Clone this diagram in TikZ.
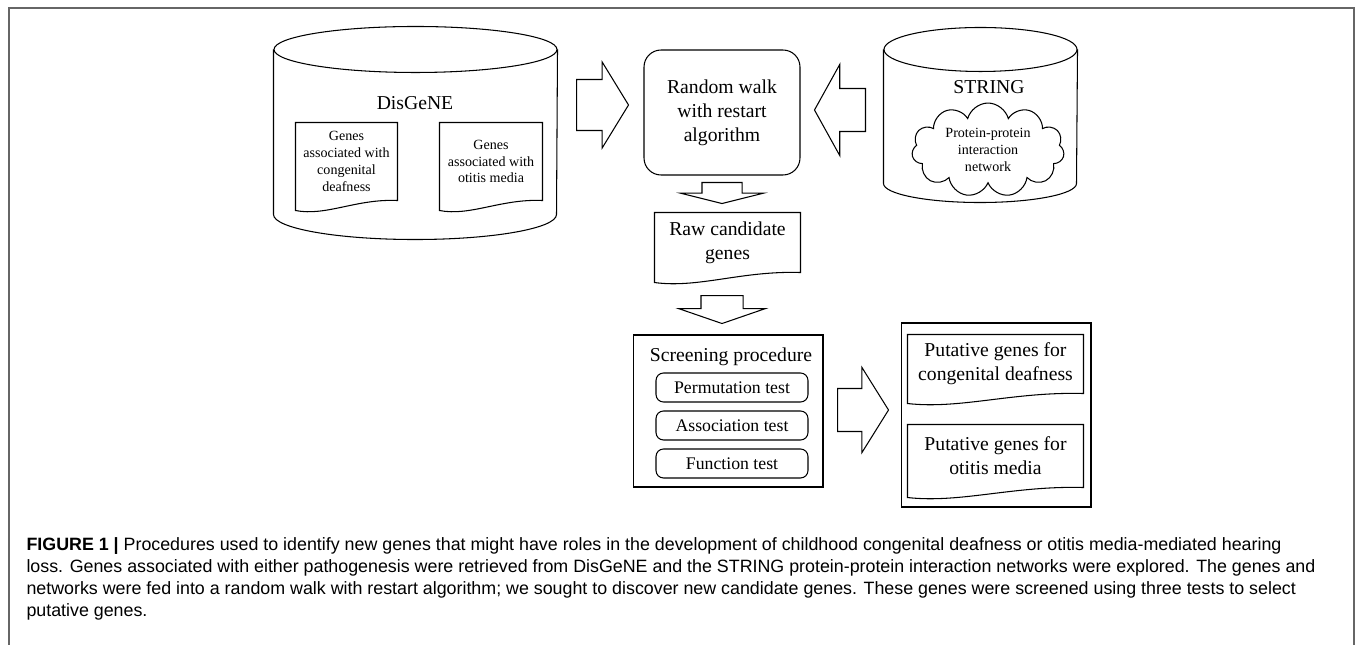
\documentclass[tikz,border=0pt]{standalone}
\usepackage{fontspec}
\setmainfont{Liberation Serif}
\newfontfamily\capfont{Liberation Sans}
\usetikzlibrary{shapes.geometric,shapes.arrows,shapes.symbols,positioning,calc}

\newcommand{\mainsize}{\fontsize{11.2}{13.6}\selectfont}
\newcommand{\testsize}{\fontsize{10.1}{12}\selectfont}
\newcommand{\smallsize}{\fontsize{8}{9.6}\selectfont}
\newcommand{\captsize}{\capfont\fontsize{10.15}{12}\selectfont}

\tikzstyle{dbbox}=[rectangle,inner sep=0pt]
\tikzstyle{algo}=[rectangle,rounded corners=0.34cm,minimum width=3.12cm,
minimum height=2.5cm,align=center,draw=black,font=\mainsize]
\tikzstyle{docu}=[rectangle,inner sep=0pt,align=center]
\tikzstyle{frame}=[rectangle,draw=black,inner sep=0pt]
\tikzstyle{testbox}=[rectangle,rounded corners=0.15cm,minimum width=3.04cm,
minimum height=0.58cm,draw=black,font=\testsize]
\tikzstyle{bigarrow}=[single arrow,draw=black,inner xsep=0pt,minimum width=0pt,anchor=tail]
\tikzstyle{captline}=[anchor=base west,inner sep=0pt,font=\captsize]

% document outline with a wavy bottom
\newcommand{\docline}[1]{%
  \draw (#1.south west) -- (#1.north west) -- (#1.north east) -- (#1.south east)
    .. controls ($(#1.south west)!0.6!(#1.south east)+(0,-2)$)
    and ($(#1.south west)!0.3!(#1.south east)+(0,16)$) .. ($(#1.south west)+(0,10)$) -- cycle;}
% database cylinder round a node
\newcommand{\cylline}[4]{%
  \draw (#1.north) ellipse [x radius=#2, y radius=#3];
  \draw (#1.north west) -- (#1.south west) arc [start angle=180, end angle=0, x radius=#2, y radius=#4] -- (#1.north east);}

\begin{document}
\begin{tikzpicture}[x=0.02cm,y=-0.02cm,line width=0.6pt]
    \useasboundingbox (0,0) rectangle (1355,645);
    \draw [black!60,line width=0.8pt] (9,650) -- (9,8) -- (1354,8) -- (1354,650);

    % databases
    \node (disgene) [dbbox,minimum width=5.66cm,minimum height=3.28cm] at (415.5,132) {};
    \cylline{disgene}{141.5}{23}{25}
    \node (disname) [font=\mainsize] at (415,103) {DisGeNE};
    \node (gen1) [docu,minimum width=2.02cm,minimum height=1.54cm,font=\smallsize] at (346.5,161.5) {Genes\\associated with\\congenital\\deafness};
    \docline{gen1}
    \node (gen2) [docu,minimum width=2.04cm,minimum height=1.54cm,font=\smallsize] at (491,161.5) {Genes\\associated with\\otitis media};
    \docline{gen2}

    \node (string) [dbbox,minimum width=3.86cm,minimum height=2.66cm] at (980.5,116.5) {};
    \cylline{string}{96.5}{22}{19}
    \node (strname) [font=\mainsize] at (989,87) {STRING};
    \node (ppi) [cloud,draw=black,cloud puffs=11,aspect=1.7,inner sep=0pt,
      minimum width=3.05cm,minimum height=1.85cm,align=center,font=\smallsize] at (988,150) {Protein-protein\\interaction\\network};

    % algorithm and results
    \node (rwr) [algo] at (722,112.5) {Random walk\\with restart\\algorithm};
    \node (raw) [docu,minimum width=2.9cm,minimum height=1.18cm,font=\mainsize] at (727.5,242.5) {Raw candidate\\genes};
    \docline{raw}

    \node (screen) [frame,minimum width=3.8cm,minimum height=3.04cm] at (728,411) {};
    \node (scrtitle) [font=\mainsize] at (731,357) {Screening procedure};
    \node (t1) [testbox] at (732,387.5) {Permutation test};
    \node (t2) [testbox,below of=t1,node distance=0.76cm] {Association test};
    \node (t3) [testbox,below of=t2,node distance=0.76cm] {Function test};

    \node (putative) [frame,minimum width=3.8cm,minimum height=3.68cm] at (996,415) {};
    \node (puta) [docu,minimum width=3.5cm,minimum height=1.16cm,font=\mainsize] at (995.5,364) {Putative genes for\\congenital deafness};
    \docline{puta}
    \node (putb) [docu,minimum width=3.5cm,minimum height=1.24cm,font=\mainsize] at (995.5,456) {Putative genes for\\otitis media};
    \docline{putb}

    % block arrows
    \node (arr1) [bigarrow,inner ysep=0.5cm,single arrow head extend=0.35cm,
      minimum height=1.04cm,single arrow tip angle=117] at (576,105) {};
    \node (arr2) [bigarrow,shape border rotate=180,inner ysep=0.42cm,single arrow head extend=0.48cm,
      minimum height=1.02cm,single arrow tip angle=122] at (866,110) {};
    \node (arr3) [bigarrow,rotate=-90,inner ysep=0.39cm,single arrow head extend=0.43cm,
      minimum height=0.42cm,single arrow tip angle=152] at (722,182) {};
    \node (arr4) [bigarrow,rotate=-90,inner ysep=0.41cm,single arrow head extend=0.45cm,
      minimum height=0.56cm,single arrow tip angle=142] at (722,295) {};
    \node (arr5) [bigarrow,inner ysep=0.42cm,single arrow head extend=0.42cm,
      minimum height=1.02cm,single arrow tip angle=116] at (837,410) {};

    % caption
    \node (cap1) [captline] at (26,550) {\textbf{FIGURE 1 |} Procedures used to identify new genes that might have roles in the development of childhood congenital deafness or otitis media-mediated hearing};
    \node (cap2) [captline] at (26,572) {loss. Genes associated with either pathogenesis were retrieved from DisGeNE and the STRING protein-protein interaction networks were explored. The genes and};
    \node (cap3) [captline] at (26,594) {networks were fed into a random walk with restart algorithm; we sought to discover new candidate genes. These genes were screened using three tests to select};
    \node (cap4) [captline] at (26,616) {putative genes.};
\end{tikzpicture}
\end{document}
